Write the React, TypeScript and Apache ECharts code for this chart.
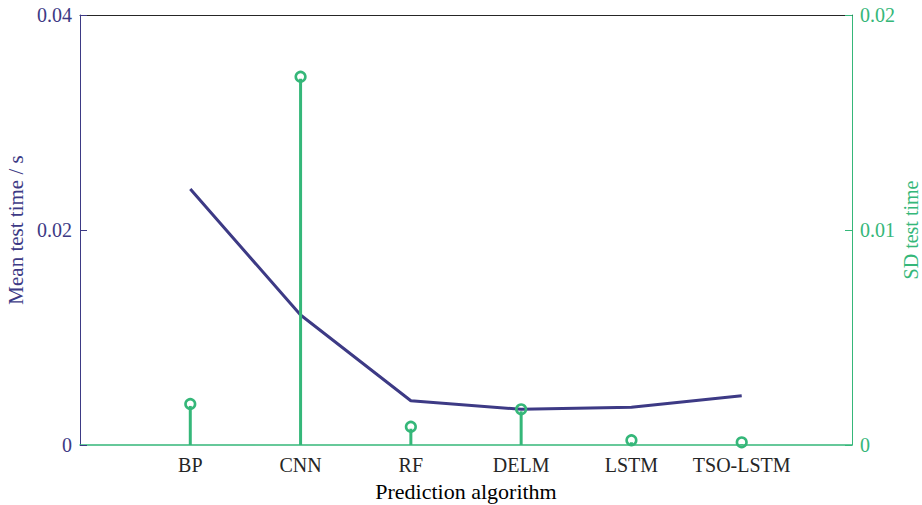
import React, { useEffect, useRef } from "react";
import * as echarts from "echarts";

const categories = ["BP", "CNN", "RF", "DELM", "LSTM", "TSO-LSTM"];
const meanTestTime = [0.02381, 0.01209, 0.00412, 0.00332, 0.00351, 0.00459];
const sdTestTime = [0.00191, 0.01713, 0.00085, 0.00166, 0.00022, 0.000126];
const leftTicks = [0, 0.02, 0.04];
const rightTicks = [0, 0.01, 0.02];
const rightAxisTitle = "SD test time";

const PURPLE = "#3d3a85";
const GREEN = "#35b779";
const FONT = "Liberation Serif, serif";

export default function App() {
  const ref = useRef<HTMLDivElement>(null);
  useEffect(() => {
    if (!ref.current) return;
    const chart = echarts.init(ref.current, null, { renderer: "svg" });
    const meanData = meanTestTime.map((v, i) => [i + 1, v]);
    const sdData = sdTestTime.map((v, i) => [i + 1, v]);
    chart.setOption({
      animation: false,
      backgroundColor: "#ffffff",
      textStyle: { fontFamily: FONT },
      grid: { left: 80, right: 70, top: 15, bottom: 60, containLabel: false, outerBoundsMode: "none" },
      graphic: [
        {
          type: "text",
          x: 911,
          y: 230,
          rotation: Math.PI / 2,
          style: {
            text: rightAxisTitle,
            fontFamily: FONT,
            fontSize: 20,
            fill: GREEN,
            align: "center",
            verticalAlign: "middle",
          },
        },
      ],
      xAxis: [
        {
          type: "value",
          min: 0,
          max: categories.length + 1,
          interval: 1,
          position: "bottom",
          name: "Prediction algorithm",
          nameLocation: "middle",
          nameGap: 35,
          nameTextStyle: { fontFamily: FONT, fontSize: 22, color: "#000000" },
          axisLine: { show: true, onZero: false, lineStyle: { color: GREEN, width: 1.5 } },
          axisTick: { show: false },
          splitLine: { show: false },
          axisLabel: {
            fontFamily: FONT,
            fontSize: 20,
            color: "#262626",
            margin: 10,
            formatter: (v: number) => {
              const i = Math.round(v) - 1;
              return i >= 0 && i < categories.length ? categories[i] : "";
            },
          },
        },
        {
          type: "value",
          min: 0,
          max: categories.length + 1,
          position: "top",
          axisLine: { show: true, onZero: false, lineStyle: { color: "#262626", width: 1 } },
          axisTick: { show: false },
          axisLabel: { show: false },
          splitLine: { show: false },
        },
      ],
      yAxis: [
        {
          type: "value",
          min: leftTicks[0],
          max: leftTicks[leftTicks.length - 1],
          interval: leftTicks[1] - leftTicks[0],
          position: "left",
          name: "Mean test time / s",
          nameLocation: "middle",
          nameGap: 46,
          nameTextStyle: { fontFamily: FONT, fontSize: 21, color: PURPLE },
          axisLine: { show: true, onZero: false, lineStyle: { color: PURPLE, width: 1 } },
          axisTick: { show: true, inside: true, length: 7, lineStyle: { color: PURPLE } },
          splitLine: { show: false },
          axisLabel: {
            fontFamily: FONT,
            fontSize: 20,
            color: PURPLE,
            margin: 8,
            formatter: (v: number) => (v === 0 ? "0" : String(v)),
          },
        },
        {
          type: "value",
          min: rightTicks[0],
          max: rightTicks[rightTicks.length - 1],
          interval: rightTicks[1] - rightTicks[0],
          position: "right",
          axisLine: { show: true, onZero: false, lineStyle: { color: GREEN, width: 1 } },
          axisTick: { show: true, inside: true, length: 7, lineStyle: { color: GREEN } },
          splitLine: { show: false },
          axisLabel: {
            fontFamily: FONT,
            fontSize: 20,
            color: GREEN,
            margin: 8,
            formatter: (v: number) => (v === 0 ? "0" : String(v)),
          },
        },
      ],
      series: [
        {
          type: "line",
          xAxisIndex: 0,
          yAxisIndex: 0,
          data: meanData,
          showSymbol: false,
          symbol: "none",
          lineStyle: { color: PURPLE, width: 3 },
          z: 2,
        },
        {
          type: "custom",
          xAxisIndex: 0,
          yAxisIndex: 1,
          data: sdData,
          z: 3,
          renderItem: (params: any, api: any) => {
            const x = api.value(0);
            const v = api.value(1);
            const base = api.coord([x, 0]);
            const top = api.coord([x, v]);
            const r = 4.8;
            return {
              type: "group",
              children: [
                {
                  type: "line",
                  shape: { x1: base[0], y1: base[1], x2: top[0], y2: top[1] + 2 },
                  style: { stroke: GREEN, lineWidth: 3 },
                },
                {
                  type: "circle",
                  shape: { cx: top[0], cy: top[1], r },
                  style: { stroke: GREEN, lineWidth: 2.6, fill: "none" },
                },
              ],
            };
          },
        },
      ],
    });
    return () => chart.dispose();
  }, []);
  return <div ref={ref} style={{ width: 922, height: 505, position: "absolute", left: 0, top: 0 }} />;
}
